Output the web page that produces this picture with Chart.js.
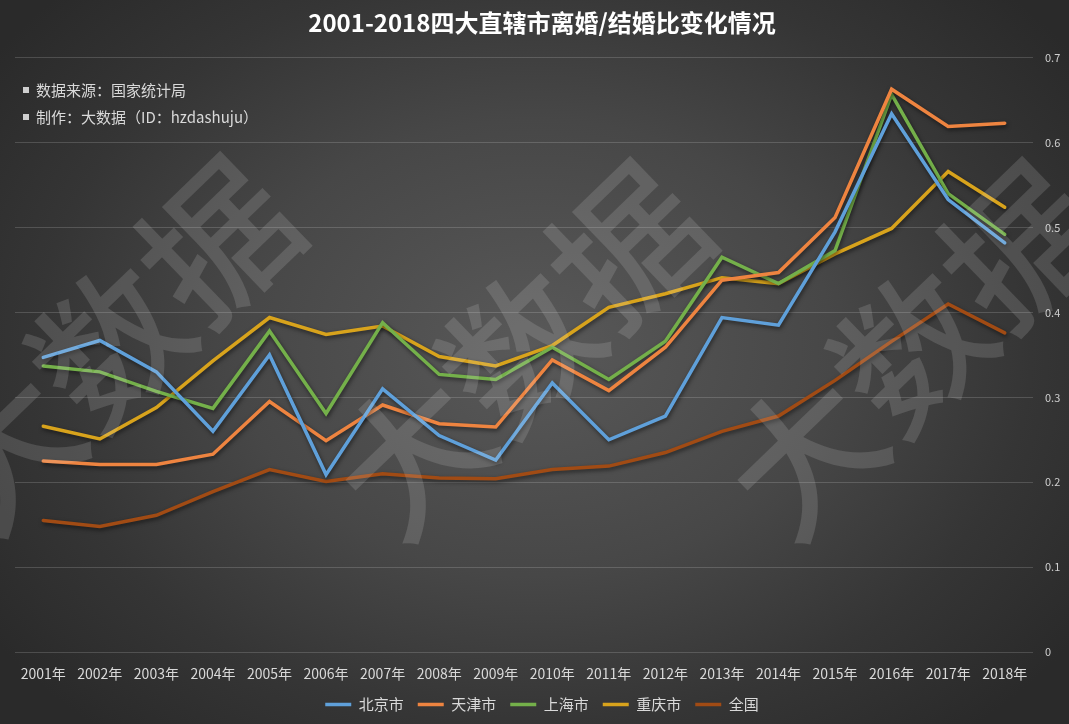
<!DOCTYPE html>
<html>
<head>
<meta charset="utf-8">
<script src="https://cdn.jsdelivr.net/npm/chart.js@4.4.0/dist/chart.umd.min.js"></script>
<style>
  html, body { margin: 0; padding: 0; }
  body { width: 1069px; height: 724px; overflow: hidden; }
  #wrap {
    position: relative; width: 1069px; height: 724px;
    background: radial-gradient(ellipse 62% 70% at 50% 48%, #595959 0%, #474747 45%, #353535 75%, #2a2a2a 100%);
  }
</style>
</head>
<body>
<div id="wrap"><canvas id="ratioChart" width="1069" height="724"></canvas></div>
<script>
// categories and series (divorce / marriage ratio)
const years = ['2001年', '2002年', '2003年', '2004年', '2005年', '2006年', '2007年', '2008年', '2009年',
               '2010年', '2011年', '2012年', '2013年', '2014年', '2015年', '2016年', '2017年', '2018年'];
const beijing   = [0.347, 0.367, 0.330, 0.260, 0.350, 0.209, 0.310, 0.255, 0.226, 0.317, 0.250, 0.278, 0.394, 0.385, 0.495, 0.634, 0.533, 0.482];
const tianjin   = [0.225, 0.221, 0.221, 0.233, 0.295, 0.249, 0.291, 0.269, 0.265, 0.344, 0.308, 0.359, 0.438, 0.447, 0.512, 0.663, 0.619, 0.623];
const shanghai  = [0.337, 0.330, 0.307, 0.287, 0.378, 0.281, 0.388, 0.327, 0.321, 0.359, 0.321, 0.366, 0.465, 0.434, 0.473, 0.657, 0.540, 0.492];
const chongqing = [0.266, 0.251, 0.288, 0.343, 0.394, 0.374, 0.384, 0.348, 0.337, 0.361, 0.406, 0.422, 0.441, 0.434, 0.469, 0.499, 0.566, 0.524];
const national  = [0.155, 0.148, 0.161, 0.189, 0.215, 0.201, 0.210, 0.205, 0.204, 0.215, 0.219, 0.235, 0.260, 0.278, 0.320, 0.366, 0.410, 0.376];
const seriesNames = ['北京市', '天津市', '上海市', '重庆市', '全国'];
const yTicks = [0, 0.1, 0.2, 0.3, 0.4, 0.5, 0.6, 0.7];
const notes = ['数据来源：国家统计局', '制作：大数据（ID：hzdashuju）'];

const FONT = '"Noto Sans CJK SC", "Noto Sans", sans-serif';
const colors = ['#5fa0da', '#ee8440', '#74b04a', '#d8a31c', '#a14b14'];
const values = [beijing, tianjin, shanghai, chongqing, national];

// soft drop shadow under the lines
const lineShadow = {
    id: 'lineShadow',
    beforeDatasetsDraw(chart) {
        const ctx = chart.ctx;
        ctx.save();
        ctx.shadowColor = 'rgba(0,0,0,0.55)';
        ctx.shadowBlur = 4;
        ctx.shadowOffsetX = 1;
        ctx.shadowOffsetY = 2;
    },
    afterDatasetsDraw(chart) {
        chart.ctx.restore();
    }
};

// watermark + source notes
const decorations = {
    id: 'decorations',
    afterDatasetsDraw(chart) {
        const ctx = chart.ctx;
        ctx.save();
        ctx.fillStyle = 'rgba(235,235,235,0.15)';
        ctx.font = '500 150px ' + FONT;
        ctx.textAlign = 'center';
        ctx.textBaseline = 'middle';
        [[110, 345], [520, 350], [912, 350]].forEach(p => {
            ctx.save();
            ctx.translate(p[0], p[1]);
            ctx.rotate(-44 * Math.PI / 180);
            ctx.fillText('大数据', 0, 0);
            ctx.restore();
        });
        ctx.restore();

        ctx.save();
        ctx.font = '15px ' + FONT;
        ctx.textBaseline = 'middle';
        notes.forEach((t, i) => {
            const y = 90 + i * 27;
            ctx.fillStyle = '#cfcfcf';
            ctx.fillRect(23, y - 3, 6, 6);
            ctx.fillStyle = '#d9d9d9';
            ctx.fillText(t, 36, y);
        });
        ctx.restore();
    }
};

const ctx = document.getElementById('ratioChart').getContext('2d');
const ratioChart = new Chart(ctx, {
    type: 'line',
    data: {
        labels: years,
        datasets: seriesNames.map((name, i) => ({
            label: name,
            data: values[i],
            borderColor: colors[i],
            backgroundColor: colors[i],
            borderWidth: 3.5,
            borderCapStyle: 'round',
            borderJoinStyle: 'miter',
            pointRadius: 0,
            pointHoverRadius: 0,
            tension: 0,
            fill: false
        }))
    },
    options: {
        responsive: false,
        animation: false,
        layout: {
            padding: { left: 15, right: 0, top: 0, bottom: 2 }
        },
        scales: {
            x: {
                offset: true,
                grid: { display: false, drawTicks: false, offset: true },
                border: { display: false },
                ticks: {
                    color: '#d9d9d9',
                    font: { family: FONT, size: 14 },
                    padding: 13,
                    maxRotation: 0,
                    autoSkip: false
                },
                afterFit: s => { s.height = 31; }
            },
            y: {
                position: 'right',
                min: 0,
                max: 0.7,
                afterBuildTicks: s => { s.ticks = yTicks.map(v => ({ value: v })); },
                grid: { color: 'rgba(255,255,255,0.16)', lineWidth: 1, drawTicks: false },
                border: { display: false },
                ticks: {
                    color: '#cfcfcf',
                    font: { family: FONT, size: 11 },
                    padding: 12,
                    callback: v => String(Math.round(v * 10) / 10)
                },
                afterFit: s => { s.width = 36; }
            }
        },
        plugins: {
            title: {
                display: true,
                text: '2001-2018四大直辖市离婚/结婚比变化情况',
                color: '#ffffff',
                font: { family: FONT, size: 24, weight: 'bold' },
                padding: { top: 8, bottom: 21 }
            },
            legend: {
                position: 'bottom',
                labels: {
                    color: '#d9d9d9',
                    font: { family: FONT, size: 15 },
                    usePointStyle: true,
                    pointStyle: 'line',
                    pointStyleWidth: 26,
                    padding: 14
                }
            },
            tooltip: { enabled: false }
        }
    },
    plugins: [lineShadow, decorations]
});
</script>
</body>
</html>
